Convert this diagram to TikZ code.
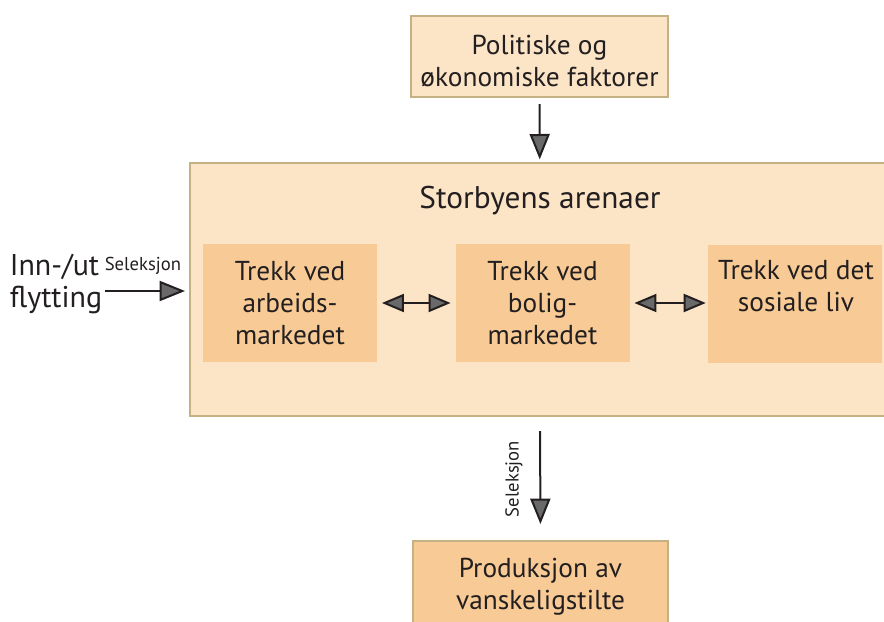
\documentclass[tikz,border=0pt]{standalone}
\usepackage{fontspec}
\setmainfont{PT Sans}
\usetikzlibrary{arrows.meta,positioning}

\definecolor{boxpale}{RGB}{252,228,198}
\definecolor{boxdeep}{RGB}{248,203,150}
\definecolor{boxedge}{RGB}{196,178,132}
\definecolor{tipgray}{RGB}{105,105,105}
\definecolor{inkdark}{RGB}{35,31,32}

\tikzset{
  paleframe/.style={draw=boxedge, line width=1.5pt, fill=boxpale, inner sep=0pt},
  deepframe/.style={draw=boxedge, line width=1.5pt, fill=boxdeep, inner sep=0pt},
  innerbox/.style={fill=boxdeep, draw=none, inner sep=0pt, minimum width=130.5pt, minimum height=88.5pt},
  lbl/.style={font=\fontsize{20.5}{24}\selectfont, align=center, text=inkdark},
  smalllbl/.style={font=\fontsize{14}{16}\selectfont, text=inkdark},
  flow/.style={draw=inkdark, line width=1.5pt, -{Triangle[length=19pt,width=15pt,line width=1.5pt,fill=tipgray]}},
  twoway/.style={draw=inkdark, line width=1.5pt, {Triangle[length=16.5pt,width=13.5pt,line width=1.5pt,fill=tipgray]}-{Triangle[length=16.5pt,width=13.5pt,line width=1.5pt,fill=tipgray]}},
}

\begin{document}
\begin{tikzpicture}[x=0.75pt,y=0.75pt,yscale=-1,xscale=1]
\useasboundingbox (0,0) rectangle (884,621);

%Shape: Rectangle, top
\node[paleframe, minimum width=192.75pt, minimum height=60.75pt] (politisk) at (539.5,56.5) {};
% Text Node
\node[lbl] (politisktekst) at (539.5,61) {Politiske og\\økonomiske faktorer};

%Shape: Rectangle, the arenas
\node[paleframe, minimum width=525pt, minimum height=189.75pt] (arena) at (540,289.5) {};
% Text Node
\node[lbl, font=\fontsize{23.5}{28}\selectfont] (arenatittel) at (540,201) {Storbyens arenaer};

%Shape: inner boxes
\node[innerbox, lbl] (arbeid) at (290,303) {Trekk ved\\arbeids-\\markedet};
\node[innerbox, lbl] (bolig) at (542.5,303) {Trekk ved\\bolig-\\markedet};
\node[innerbox] (sosial) at (795,303.5) {};
% Text Node
\node[lbl] (sosialtekst) at (796,286) {Trekk ved det\\sosiale liv};

%Shape: Rectangle, bottom
\node[deepframe, minimum width=191.25pt, minimum height=73.5pt] (produksjon) at (540.5,590) {};
% Text Node
\node[lbl] (produksjontekst) at (540.5,587) {Produksjon av\\vanskeligstilte};

% Text Node, left
\node[lbl, font=\fontsize{22.5}{24}\selectfont, align=left] (flytting) at (56,284) {Inn-/ut\\flytting};
\coordinate (flyttpil) at (105,291);

% Text Nodes, selection
\node[smalllbl] (seleksjonvenstre) at (143,266) {Seleksjon};
\node[smalllbl, rotate=90] (seleksjonned) at (514,479) {Seleksjon};

%Straight Lines
\draw[flow, shorten <=4.5pt, shorten >=2pt] (politisk) -- (arena);
\draw[flow, shorten >=3pt] (flyttpil) -- (flyttpil -| arena.west);
\draw[flow, shorten <=10.5pt, shorten >=12pt] (arena.south) -- (produksjon.north);
\draw[twoway, shorten <=3.5pt, shorten >=3.5pt] (arbeid.east) -- (bolig.west);
\draw[twoway, shorten <=3.5pt, shorten >=1.5pt] (bolig.east) -- (bolig.east -| sosial.west);

\end{tikzpicture}
\end{document}
